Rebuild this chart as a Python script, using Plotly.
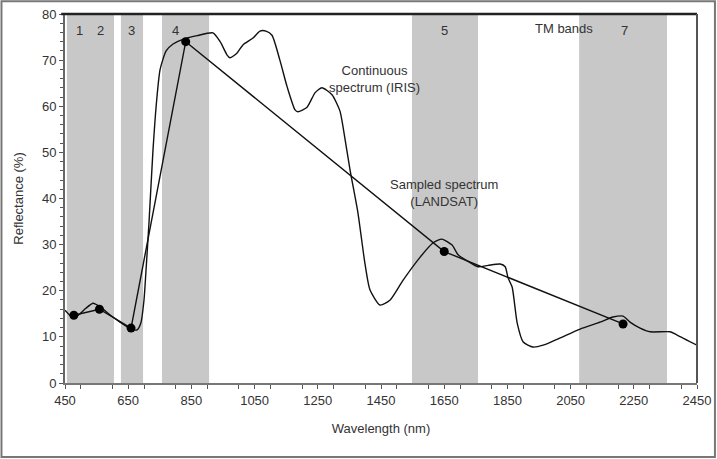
import plotly.graph_objects as go

# Continuous spectrum (IRIS)
iris_wl = [450, 475, 497, 516, 539, 561, 592, 624, 656, 678, 690, 700, 706, 716, 728,
           741, 751, 770, 792, 823, 868, 918, 941, 963, 972, 994, 1013, 1045, 1067,
           1086, 1105, 1130, 1153, 1178, 1187, 1216, 1241, 1263, 1295, 1320, 1330,
           1352, 1377, 1399, 1415, 1447, 1479, 1520, 1574, 1615, 1643, 1675, 1694,
           1722, 1757, 1789, 1827, 1843, 1852, 1865, 1881, 1900, 1931, 1963, 2017,
           2080, 2143, 2184, 2216, 2238, 2270, 2302, 2365, 2387, 2450]
iris_refl = [15.8, 14.2, 15.0, 16.2, 17.3, 16.5, 14.8, 13.2, 11.8, 11.5, 13.0, 18.0, 24.0,
             35.0, 50.0, 62.0, 68.0, 72.0, 73.5, 74.5, 75.3, 75.9, 74.0, 71.1, 70.5,
             71.5, 73.3, 74.8, 76.3, 76.3, 75.4, 70.0, 64.2, 59.2, 58.8, 59.8, 62.9,
             64.0, 62.5, 59.0, 55.5, 46.2, 36.9, 26.0, 20.2, 16.9, 18.0, 22.3, 27.3,
             30.4, 31.2, 29.9, 27.8, 26.5, 25.2, 25.5, 25.8, 25.2, 22.8, 20.8, 13.0,
             8.9, 7.8, 8.2, 9.8, 11.7, 13.2, 14.3, 14.5, 13.2, 11.9, 11.1, 11.1, 10.4, 8.2]

# Sampled spectrum (LANDSAT TM)
tm_wl = [478, 559, 659, 832, 1650, 2216]
tm_refl = [14.7, 16.0, 11.9, 74.0, 28.5, 12.8]

# TM band extents (bands 1 and 2 drawn as one block)
band_start = [456, 627, 757, 1548, 2077]
band_end = [605, 697, 906, 1757, 2355]

band_labels = ["1", "2", "3", "4", "5", "7"]
band_label_wl = [497, 563, 661, 800, 1650, 2220]

gray = "#c8c8c8"
txt = "#333333"
font = "Liberation Sans, Arial, sans-serif"

fig = go.Figure()

for s, e in zip(band_start, band_end):
    fig.add_shape(type="rect", xref="x", yref="y", x0=s, x1=e, y0=0, y1=80,
                  fillcolor=gray, line=dict(width=0), layer="below")

fig.add_trace(go.Scatter(x=iris_wl, y=iris_refl, mode="lines",
                         line=dict(color="#111111", width=1.4, shape="spline", smoothing=0.6),
                         showlegend=False, hoverinfo="skip"))
fig.add_trace(go.Scatter(x=tm_wl, y=tm_refl, mode="lines+markers",
                         line=dict(color="#111111", width=1.4),
                         marker=dict(color="#000000", size=9),
                         showlegend=False, hoverinfo="skip"))

for lab, wl in zip(band_labels, band_label_wl):
    fig.add_annotation(x=wl, y=76.5, xref="x", yref="y", text=lab, showarrow=False,
                       font=dict(size=13, color=txt, family=font))

fig.add_annotation(x=2030, y=76.8, xref="x", yref="y", text="TM bands", showarrow=False,
                   font=dict(size=13, color=txt, family=font))
fig.add_annotation(x=1430, y=66.0, xref="x", yref="y", text="Continuous<br>spectrum (IRIS)",
                   showarrow=False, align="center",
                   font=dict(size=13, color=txt, family=font))
fig.add_annotation(x=1650, y=41.3, xref="x", yref="y", text="Sampled spectrum<br>(LANDSAT)",
                   showarrow=False, align="center",
                   font=dict(size=13, color=txt, family=font))

# top frame line and right frame line
fig.add_shape(type="line", xref="paper", yref="paper", x0=-0.006, x1=1.0, y0=1, y1=1,
              line=dict(color="#222222", width=2.5))
fig.add_shape(type="line", xref="paper", yref="paper", x0=1, x1=1, y0=0, y1=1,
              line=dict(color="#555555", width=2))
# outer border of the picture
fig.add_shape(type="rect", xref="paper", yref="paper",
              x0=-0.1005, x1=1.0284, y0=-0.2005, y1=1.0345,
              line=dict(color="#777777", width=2))

fig.update_layout(
    template="none",
    width=717, height=459,
    margin=dict(l=65, r=20, t=14, b=76, autoexpand=False),
    paper_bgcolor="white", plot_bgcolor="white",
    font=dict(family=font, size=13, color=txt),
)
fig.update_xaxes(range=[450, 2450], tick0=450, dtick=200, ticks="outside", ticklen=4,
                 tickcolor="#555555", showgrid=False, zeroline=False, automargin=False,
                 showline=True, linecolor="#777777", linewidth=2,
                 minor=dict(dtick=100, ticks="outside", ticklen=4, tickcolor="#555555"),
                 tickfont=dict(size=13, color=txt, family=font),
                 title=dict(text="Wavelength (nm)", standoff=17,
                            font=dict(size=13, color=txt, family=font)))
fig.update_yaxes(range=[0, 80], dtick=10, ticks="outside", ticklen=4,
                 tickcolor="#555555", showgrid=False, zeroline=False, automargin=False,
                 showline=True, linecolor="#666666", linewidth=2,
                 minor=dict(dtick=2, ticks="outside", ticklen=3, tickcolor="#555555"),
                 tickfont=dict(size=13, color=txt, family=font),
                 title=dict(text="Reflectance (%)", standoff=15,
                            font=dict(size=13, color=txt, family=font)))

fig.write_html("out.html", config={"displayModeBar": False},
               post_script="document.body.style.margin='0';")
